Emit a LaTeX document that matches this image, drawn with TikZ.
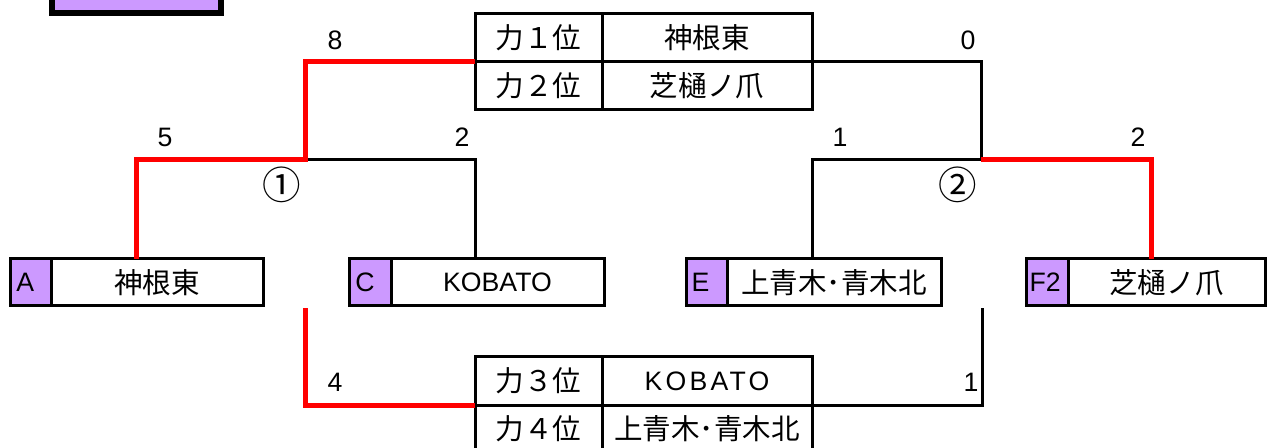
\documentclass[tikz,border=0pt]{standalone}
\usepackage{fontspec}
\setmainfont{Liberation Sans}
\newfontfamily\jp[Scale=1.07]{Noto Sans CJK JP}
\definecolor{lav}{HTML}{CC99FF}
\newcommand\mycell[7]{%
  \pgfmathsetmacro\cw{(#5-#3)*0.75}%
  \pgfmathsetmacro\ch{(#6-#4)*0.75}%
  \node[#2, minimum width=\cw pt, minimum height=\ch pt] (#1) at ({(#3+#5)/2},{(#4+#6)/2}) {#7};}
\tikzset{
  cell/.style={draw, line width=2.25pt, inner sep=0pt, outer sep=0pt, font=\fontsize{20}{24}\selectfont},
  tagcell/.style={cell, fill=lav},
  tagtext/.style={anchor=west, inner sep=0pt, font=\fontsize{20}{24}\selectfont},
  win/.style={draw=red, line width=3.75pt, line join=miter},
  lose/.style={draw=black, line width=2.25pt, line join=miter},
  num/.style={inner sep=0pt, font=\fontsize{20}{24}\selectfont},
  circ/.style={inner sep=0pt, font=\fontsize{27}{30}\selectfont\jp},
}
\begin{document}
\begin{tikzpicture}[x=0.75pt, y=-0.75pt]
\useasboundingbox (0,0) rectangle (1269,448);
\clip (0,0) rectangle (1269,448);
% cut-off title box
\draw[line width=4.2pt, fill=lav] (52,-40) rectangle (221,13) node[coordinate] (title) {};
% connector feet / junctions
\coordinate (j1) at (305,160);
\coordinate (j2) at (981,160);
\coordinate (fA) at (136,259);
\coordinate (fC) at (475,259);
\coordinate (fE) at (812,259);
\coordinate (fF) at (1151,259);
\coordinate (k1) at (305,308);
\coordinate (k2) at (982,308);
% top table
\mycell{t1a}{cell}{475}{14}{602}{62}{\jp 力１位}
\mycell{t1b}{cell}{602}{14}{812}{62}{\jp 神根東}
\mycell{t2a}{cell}{475}{62}{602}{110}{\jp 力２位}
\mycell{t2b}{cell}{602}{62}{812}{110}{\jp 芝樋ノ爪}
% bottom table
\mycell{b1a}{cell}{475}{357}{602}{405}{\jp 力３位}
\mycell{b1b}{cell}{602}{357}{812}{405}{\addfontfeature{LetterSpace=12}KOBATO}
\mycell{b2a}{cell}{475}{405}{602}{453}{\jp 力４位}
\mycell{b2b}{cell}{602}{405}{812}{453}{\jp 上青木･青木北}
% team boxes
\mycell{Ap}{tagcell}{10}{259}{51}{306}{}
\mycell{Aw}{cell}{51}{259}{263}{306}{\jp 神根東}
\mycell{Cp}{tagcell}{349}{259}{391}{306}{}
\mycell{Cw}{cell}{391}{259}{604}{306}{KOBATO}
\mycell{Ep}{tagcell}{686}{259}{727}{306}{}
\mycell{Ew}{cell}{727}{259}{941}{306}{\jp 上青木･青木北}
\mycell{Fp}{tagcell}{1026}{259}{1068}{306}{}
\mycell{Fw}{cell}{1068}{259}{1265}{306}{\jp 芝樋ノ爪}
\node[tagtext] (At) at ([xshift=4.5pt]Ap.west) {A};
\node[tagtext] (Ct) at ([xshift=4.5pt]Cp.west) {C};
\node[tagtext] (Et) at ([xshift=4pt]Ep.west) {E};
\node[tagtext] (Ft) at ([xshift=2.5pt]Fp.west) {F2};
% connectors (losers first)
\draw[lose] (j1) -| (fC);
\draw[lose] (t1b.south east) -| (j2);
\draw[lose] (j2) -| (fE);
\draw[lose] (b1b.south east) -| (k2);
\draw[win] (t1a.south west) -| (j1) -| (fA);
\draw[win] (j2) -| (fF);
\draw[win] (b1a.south west) -| (k1);
% scores
\node[num] (s8) at (335,40) {8};
\node[num] (s0) at (968,40) {0};
\node[num] (s5) at (165,137) {5};
\node[num] (s2a) at (462,137) {2};
\node[num] (s1a) at (840,137) {1};
\node[num] (s2b) at (1138,137) {2};
\node[num] (s4) at (335,382) {4};
\node[num] (s1b) at (971,382) {1};
\node[circ] (g1) at (282,185) {①};
\node[circ] (g2) at (958,185) {②};
\end{tikzpicture}
\end{document}
